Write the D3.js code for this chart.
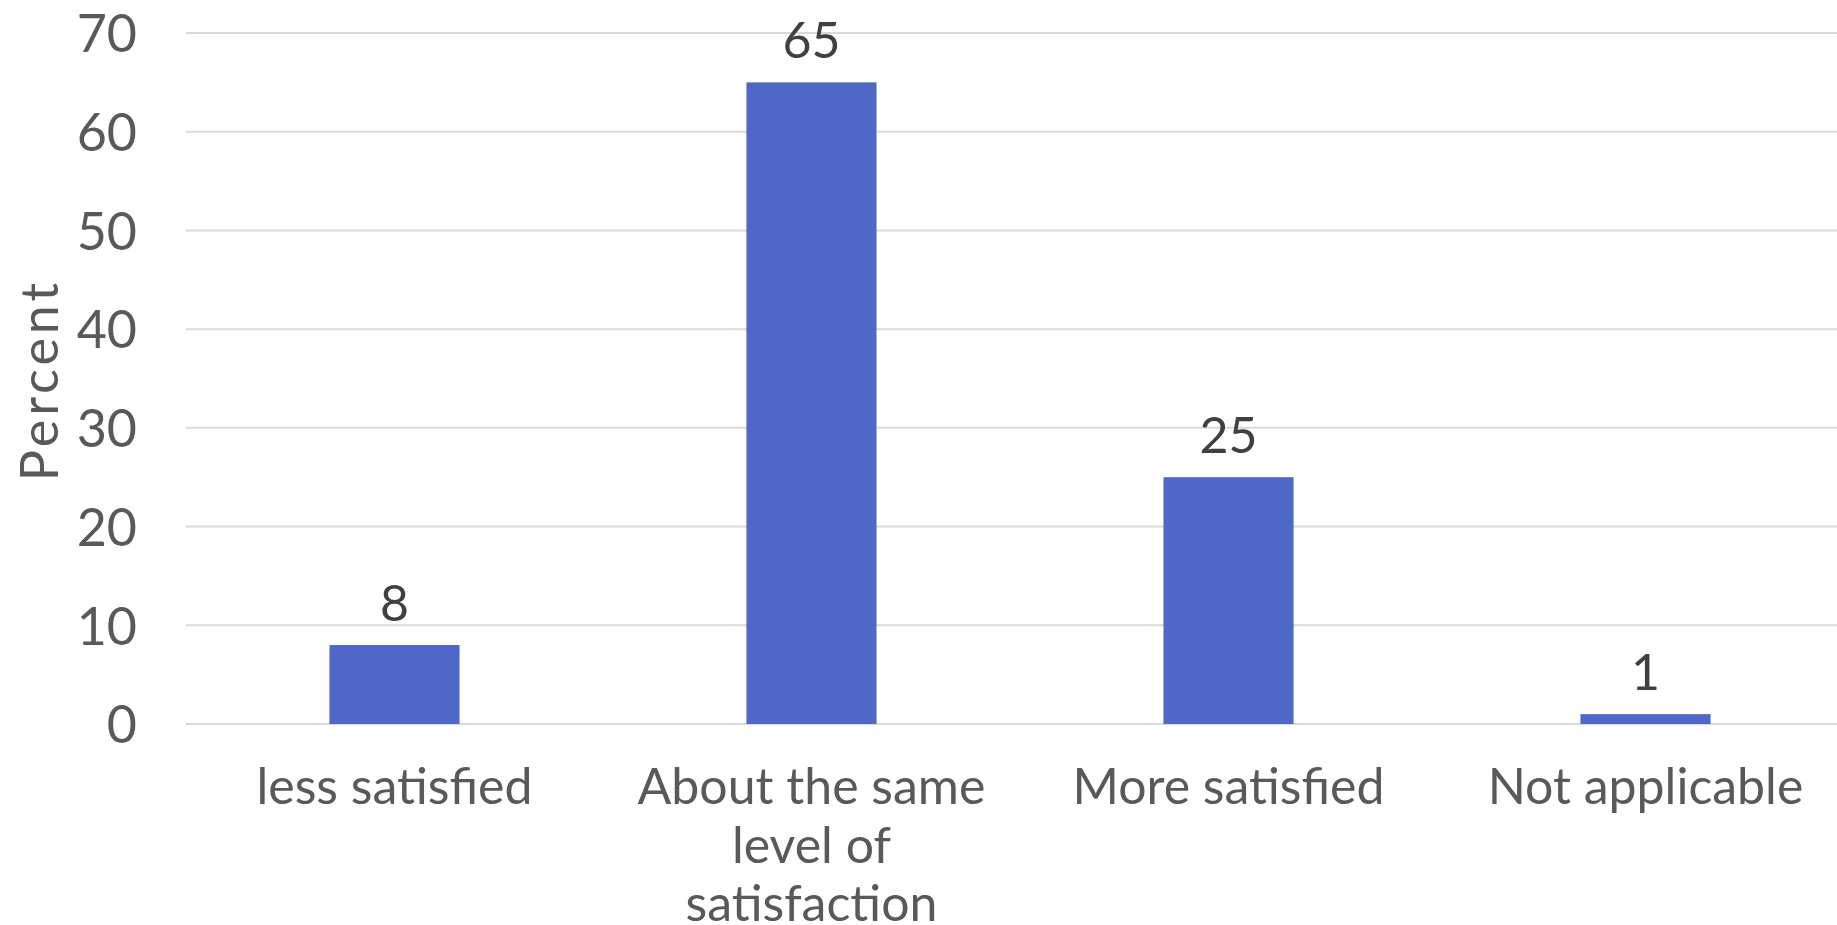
<!DOCTYPE html>
<html><head><meta charset="utf-8">
<script src="https://cdn.jsdelivr.net/npm/d3@7"></script>
<style>body{margin:0;background:#fff;} text{font-family:Lato, "Open Sans", sans-serif;}</style>
</head><body>
<svg id="c" width="1837" height="925"></svg>
<script>
const categories = [["less satisfied"], ["About the same", "level of", "satisfaction"], ["More satisfied"], ["Not applicable"]];
const values = [8, 65, 25, 1];
const yTicks = [0, 10, 20, 30, 40, 50, 60, 70];
const yTitle = "Percent";

(function () {
const svg = d3.select("#c");
const mLeft = 186, mRight = 1854, mTop = 33, mBottom = 724;
const x = d3.scaleBand().domain(d3.range(categories.length)).range([mLeft, mRight]).paddingInner(0.688).paddingOuter(0.344);
const y = d3.scaleLinear().domain([0, 70]).range([mBottom, mTop]);

svg.append("g").selectAll("line").data(yTicks).join("line")
  .attr("x1", mLeft).attr("x2", 1837)
  .attr("y1", d => y(d)).attr("y2", d => y(d))
  .attr("stroke", "#d9d9d9").attr("stroke-width", 2);

const yAxis = svg.append("g").attr("transform", `translate(${mLeft},0)`)
  .call(d3.axisLeft(y).tickValues(yTicks).tickSize(0).tickPadding(49));
yAxis.select(".domain").remove();
yAxis.selectAll("text").attr("fill", "#595959").style("font-size", "52px").attr("font-family", "Lato").attr("dy", "0.36em");

svg.append("g").selectAll("rect").data(values).join("rect")
  .attr("x", (d, i) => x(i)).attr("width", x.bandwidth())
  .attr("y", d => y(d)).attr("height", d => y(0) - y(d))
  .attr("fill", "#4f68c7");

svg.append("g").selectAll("text").data(values).join("text")
  .attr("x", (d, i) => x(i) + x.bandwidth() / 2).attr("y", d => y(d) - 24)
  .attr("text-anchor", "middle").attr("fill", "#404040").style("font-size", "50px")
  .text(d => d);

const cat = svg.append("g").selectAll("text").data(categories).join("text")
  .attr("text-anchor", "middle").attr("fill", "#595959").style("font-size", "50px")
  .attr("x", (d, i) => x(i) + x.bandwidth() / 2).attr("y", 804);
cat.selectAll("tspan").data(d => d).join("tspan")
  .attr("x", function() { return this.parentNode.getAttribute("x"); })
  .attr("dy", (d, j) => j === 0 ? 0 : 58.5)
  .text(d => d);

svg.append("text").attr("transform", "translate(58,380) rotate(-90)")
  .attr("text-anchor", "middle").attr("fill", "#595959").style("font-size", "52px")
  .style("letter-spacing", "4px")
  .text(yTitle);
})();
</script>
</body></html>
